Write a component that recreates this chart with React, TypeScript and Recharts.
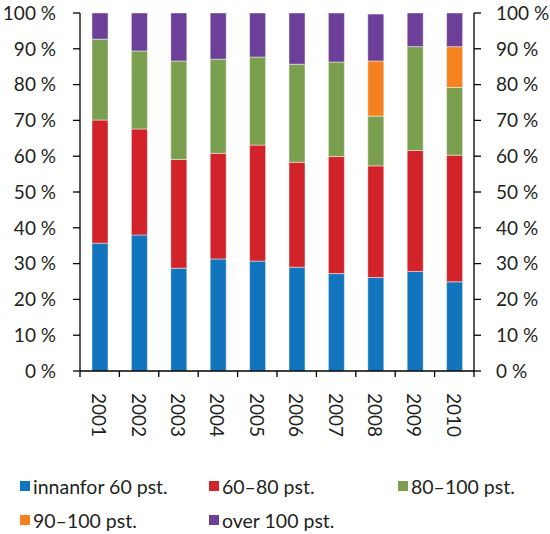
import React from 'react';
import { BarChart, Bar, XAxis, YAxis, Legend } from 'recharts';

const years = ['2001', '2002', '2003', '2004', '2005', '2006', '2007', '2008', '2009', '2010'];
const innanfor60 = [35.7, 38.0, 28.7, 31.3, 30.7, 29.0, 27.2, 26.1, 27.8, 24.9];
const p60to80 = [34.4, 29.6, 30.4, 29.5, 32.4, 29.3, 32.7, 31.2, 33.8, 35.4];
const p80to100 = [22.6, 21.8, 27.5, 26.3, 24.6, 27.4, 26.4, 13.9, 29.0, 18.9];
const p90to100 = [0, 0, 0, 0, 0, 0, 0, 15.4, 0, 11.4];
const over100 = [7.3, 10.6, 13.4, 12.9, 12.3, 14.3, 13.7, 13.1, 9.4, 9.4];
const yTicks = [0, 10, 20, 30, 40, 50, 60, 70, 80, 90, 100];

const seriesNames = ['innanfor 60 pst.', '60–80 pst.', '80–100 pst.', '90–100 pst.', 'over 100 pst.'];
const seriesKeys = ['a', 'b', 'c', 'd', 'e'];
const seriesColors = ['#1174BD', '#D3232A', '#7A9F4F', '#F5821F', '#6C3F98'];

const data = years.map((y, i) => ({
  year: y,
  a: innanfor60[i],
  b: p60to80[i],
  c: p80to100[i],
  d: p90to100[i],
  e: over100[i],
}));

const FONT = 'Lato, "Noto Sans", sans-serif';
const TEXT = '#231F20';
const TICK_FS = 19;

const YearTick = (props: any) => {
  const { x, y, payload, visibleTicksCount, index } = props;
  const off = typeof payload.offset === 'number' ? payload.offset : 0;
  const ty = y + 22;
  const isLast = index === (visibleTicksCount ?? 0) - 1;
  return (
    <g>
      <line x1={x - off} y1={y} x2={x - off} y2={y + 6} stroke="#000" strokeWidth={1.3} />
      {isLast && <line x1={x + off} y1={y} x2={x + off} y2={y + 6} stroke="#000" strokeWidth={1.3} />}
      <text
        x={x}
        y={ty}
        transform={`rotate(90, ${x}, ${ty})`}
        textAnchor="start"
        dominantBaseline="central"
        fontSize={TICK_FS}
        fontFamily={FONT}
        fill={TEXT}
      >
        {payload.value}
      </text>
    </g>
  );
};

const legendPos = [
  { left: 20, top: 476 },
  { left: 209, top: 476 },
  { left: 398, top: 476 },
  { left: 20, top: 510 },
  { left: 209, top: 510 },
];

const LegendContent = () => (
  <div style={{ position: 'relative', height: 0, width: 550 }}>
    {seriesNames.map((n, i) => (
      <div
        key={n}
        style={{
          position: 'absolute',
          left: legendPos[i].left,
          top: legendPos[i].top - 470,
          height: 20,
          display: 'flex',
          alignItems: 'center',
          whiteSpace: 'nowrap',
          fontFamily: FONT,
          fontSize: 19.5,
          color: TEXT,
        }}
      >
        <span style={{ display: 'inline-block', width: 10, height: 10, background: seriesColors[i], marginRight: 3 }} />
        <span>{n}</span>
      </div>
    ))}
  </div>
);

export default function App() {
  return (
    <div style={{ position: 'absolute', left: 0, top: 0, width: 550, height: 534, background: '#fff' }}>
      <BarChart
        width={550}
        height={534}
        data={data}
        margin={{ top: 13, right: 0, bottom: 105, left: 0 }}
        barCategoryGap={0}
      >
        <XAxis
          xAxisId="x"
          dataKey="year"
          type="category"
          stroke="#000"
          strokeWidth={1.3}
          tickLine={false}
          height={58}
          tickSize={0}
          tickMargin={0}
          interval={0}
          tick={<YearTick />}
        />
        <YAxis
          yAxisId="left"
          orientation="left"
          domain={[0, 100]}
          ticks={yTicks}
          tickFormatter={(v: number) => `${v} %`}
          width={80}
          tickSize={7}
          tickMargin={17}
          stroke="#000"
          strokeWidth={1.3}
          tick={{ fontSize: TICK_FS, fontFamily: FONT, fill: TEXT }}
          interval={0}
        />
        <YAxis
          yAxisId="right"
          orientation="right"
          domain={[0, 100]}
          ticks={yTicks}
          tickFormatter={(v: number) => `${v} %`}
          width={76}
          tickSize={7}
          tickMargin={15}
          stroke="#000"
          strokeWidth={1.3}
          tick={{ fontSize: TICK_FS, fontFamily: FONT, fill: TEXT }}
          interval={0}
          allowDataOverflow
        />
        <Legend content={<LegendContent />} wrapperStyle={{ top: 470, left: 0, bottom: 'auto', width: 550, height: 0 }} />
        {seriesKeys.map((k, i) => (
          <Bar
            key={k}
            dataKey={k}
            name={seriesNames[i]}
            stackId="s"
            xAxisId="x"
            yAxisId="left"
            fill={seriesColors[i]}
            stroke="#ffffff"
            strokeOpacity={0.45}
            strokeWidth={1}
            barSize={16}
            isAnimationActive={false}
          />
        ))}
      </BarChart>
    </div>
  );
}
